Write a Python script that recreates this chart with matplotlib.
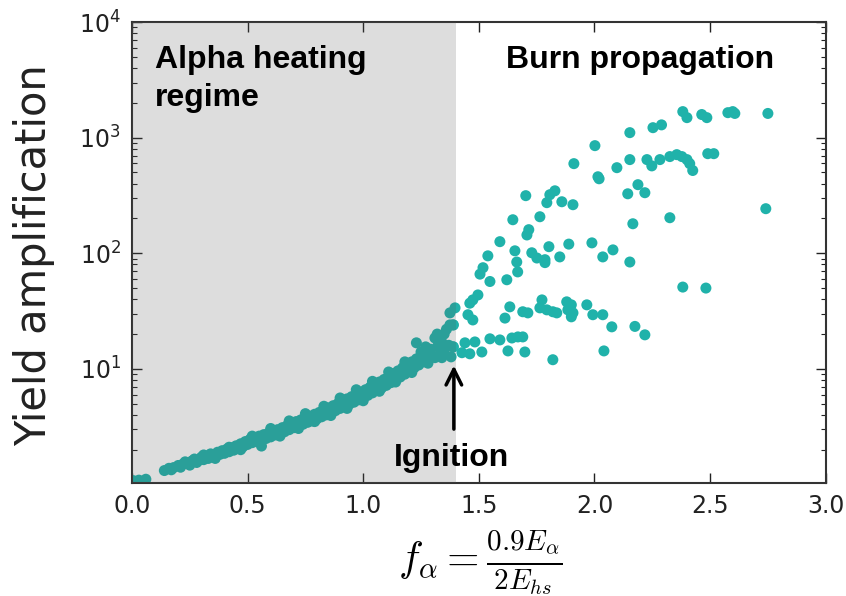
import numpy as np
import matplotlib
matplotlib.use("Agg")
import matplotlib.pyplot as plt

plt.rcParams['mathtext.fontset'] = 'cm'

# ---- dados ----
# cauda inicial (x ~ 0)
x_inicio = [0.005, 0.03, 0.06]
y_inicio = [1.08, 1.09, 1.11]

# faixa densa do aquecimento alfa (x < 1.4)
x_faixa = [0.14, 0.16, 0.17, 0.18, 0.20, 0.21, 0.22, 0.24, 0.25, 0.26, 0.27, 0.28,
           0.29, 0.30, 0.31, 0.32, 0.33, 0.34, 0.35, 0.36, 0.37, 0.38, 0.39, 0.40,
           0.41, 0.42, 0.43, 0.44, 0.45, 0.46, 0.47, 0.48, 0.49, 0.50, 0.51, 0.52,
           0.53, 0.54, 0.55, 0.56, 0.57, 0.58, 0.59, 0.60, 0.61, 0.62, 0.63, 0.64,
           0.65, 0.66, 0.67, 0.68, 0.69, 0.70, 0.71, 0.72, 0.73, 0.74, 0.75, 0.76,
           0.77, 0.78, 0.79, 0.80, 0.81, 0.82, 0.83, 0.84, 0.85, 0.86, 0.87, 0.88,
           0.89, 0.90, 0.91, 0.92, 0.93, 0.94, 0.95, 0.96, 0.97, 0.98, 0.99, 1.00,
           1.01, 1.02, 1.03, 1.04, 1.05, 1.06, 1.07, 1.08, 1.09, 1.10, 1.11, 1.12,
           1.13, 1.14, 1.15, 1.16, 1.17, 1.18, 1.19, 1.20, 1.21, 1.22, 1.23, 1.24,
           1.25, 1.26, 1.27, 1.28, 1.29, 1.30,
           1.23, 1.27, 1.31, 1.31, 1.32, 1.32, 1.33, 1.34, 1.34, 1.35, 1.35, 1.36,
           1.37, 1.375, 1.375, 1.38, 1.39, 1.39,
           0.23, 0.31, 0.36, 0.42, 0.47, 0.52, 0.56, 0.60, 0.64, 0.68, 0.72, 0.75,
           0.79, 0.83, 0.86, 0.90, 0.93, 0.97, 1.00, 1.04, 1.07, 1.11, 1.14, 1.18,
           1.21, 1.25, 1.28]
y_faixa = [1.32, 1.38, 1.34, 1.40, 1.46, 1.41, 1.50, 1.53, 1.47, 1.60, 1.66, 1.55,
           1.62, 1.72, 1.64, 1.76, 1.68, 1.84, 1.74, 1.80, 1.90, 1.82, 1.96, 1.86,
           2.02, 1.92, 2.08, 1.98, 2.16, 2.05, 2.25, 2.12, 2.35, 2.22, 2.45, 2.30,
           2.52, 2.36, 2.62, 2.42, 2.70, 2.50, 2.78, 2.58, 2.88, 2.68, 2.98, 2.78,
           3.10, 2.86, 3.22, 2.98, 3.35, 3.10, 3.50, 3.22, 3.62, 3.32, 3.75, 3.45,
           3.90, 3.55, 4.05, 3.70, 4.20, 3.85, 4.40, 4.00, 4.60, 4.15, 4.80, 4.35,
           5.00, 4.55, 5.25, 4.75, 5.50, 4.95, 5.75, 5.15, 6.00, 5.40, 6.30, 5.65,
           6.60, 5.90, 6.95, 6.20, 7.30, 6.50, 7.70, 6.85, 8.10, 7.20, 8.60, 7.60,
           9.10, 8.00, 9.60, 8.50, 10.2, 9.00, 10.8, 9.60, 11.5, 10.2, 12.2, 10.8,
           13.0, 11.5, 13.8, 12.2, 14.8, 12.8,
           16.8, 15.5, 18.5, 12.5, 20.0, 15.5, 13.0, 12.5, 17.0, 14.0, 20.0, 22.0,
           16.0, 30.5, 24.0, 12.7, 15.5, 24.0,
           1.57, 1.80, 1.68, 2.10, 2.00, 2.62, 2.15, 3.05, 2.62, 3.55, 3.05, 4.10,
           3.50, 4.75, 3.95, 5.60, 4.55, 6.60, 5.30, 7.80, 6.40, 9.40, 7.70, 11.5,
           9.30, 14.0, 11.2]

# propagacao da queima (x > 1.4)
x_queima = [1.388, 1.427, 1.461, 1.44, 1.483, 1.513, 1.548, 1.591, 1.626, 1.643,
            1.669, 1.69, 1.699, 1.82, 2.041,
            1.397, 1.388, 1.461, 1.474, 1.496, 1.453, 1.474, 1.634, 1.613, 1.69,
            1.712, 1.773, 1.764, 1.794, 1.82, 1.837, 1.88, 1.90, 1.885, 1.907,
            1.90, 1.967, 1.993, 2.036, 2.075, 2.175, 2.218,
            1.518, 1.505, 1.548, 1.621, 1.664, 1.668, 1.729, 1.751, 1.786, 1.786,
            1.803, 1.85, 1.889, 1.989, 2.036, 2.08, 2.153, 1.539, 1.591, 1.656,
            1.647,
            1.703, 1.829, 1.807, 1.794, 1.859, 1.907, 1.764, 1.716, 1.708, 1.911,
            2.002, 2.015, 2.02, 2.097, 2.153, 2.227, 2.248, 2.283, 2.326, 2.356,
            2.378, 2.40, 2.412, 2.425, 2.49, 2.516, 2.144, 2.188, 2.218, 2.326,
            2.166, 2.741, 2.382, 2.482,
            2.153, 2.253, 2.29, 2.382, 2.40, 2.464, 2.486, 2.577, 2.598, 2.607,
            2.75]
y_queima = [15.5, 13.8, 13.5, 16.8, 17.1, 14.0, 18.2, 17.8, 14.3, 18.5,
            18.9, 18.9, 14.0, 12.0, 14.3,
            33.7, 24.0, 37.0, 39.5, 43.6, 29.4, 26.5, 34.4, 27.5, 31.2,
            30.5, 39.5, 33.7, 32.4, 31.2, 30.5, 38.0, 35.8, 32.4, 30.5,
            28.2, 35.8, 29.4, 29.4, 23.1, 23.3, 19.7,
            75, 66, 57, 59, 84, 69, 101, 91, 88, 83,
            114, 93, 120, 123, 93, 107, 84, 95, 126, 105,
            195,
            315, 347, 321, 274, 279, 263, 207, 160, 144, 596,
            853, 459, 441, 550, 646, 646, 570, 646, 686, 713,
            686, 646, 596, 520, 727, 727, 327, 392, 334, 203,
            180, 243, 51, 50,
            1105, 1220, 1290, 1680, 1490, 1585, 1490, 1645, 1680, 1620,
            1620]

limite_ignicao = 1.4

x = x_inicio + x_faixa + x_queima
y = y_inicio + y_faixa + y_queima

fig = plt.figure(figsize=(8.46, 5.96), dpi=100)
ax = fig.add_axes([0.156, 0.1896, 0.82, 0.7734])

ax.scatter(x, y, s=63, color='#20b2aa', edgecolors='none', zorder=2)
# regiao sombreada por cima dos pontos
ax.axvspan(0, limite_ignicao, color='#575757', alpha=0.2, lw=0, zorder=3)

ax.set_yscale('log')
ax.set_xlim(0, 3.0)
ax.set_ylim(1.03, 1e4)
ax.set_xticks([0.0, 0.5, 1.0, 1.5, 2.0, 2.5, 3.0])
ax.set_xticklabels(['0.0', '0.5', '1.0', '1.5', '2.0', '2.5', '3.0'])

ax.tick_params(which='both', direction='in', top=True, right=True, labelsize=17, colors='#222222')
ax.tick_params(which='major', length=7, width=1, pad=8)
ax.tick_params(which='minor', length=3.5, width=0.8)
for s in ax.spines.values():
    s.set_linewidth(1.5)
    s.set_color('#333333')

# textos (x em dados, y em fracao do eixo)
trans = ax.get_xaxis_transform()
fonte = ['Liberation Sans', 'DejaVu Sans']
ax.text(0.1, 0.95, 'Alpha heating\nregime', transform=trans,
        fontsize=23, fontweight='bold', family=fonte, va='top', ha='left',
        linespacing=1.33, zorder=5)
ax.text(2.196, 0.95, 'Burn propagation', transform=trans,
        fontsize=23, fontweight='bold', family=fonte, va='top', ha='center', zorder=5)
ax.text(1.383, 0.022, 'Ignition', transform=trans,
        fontsize=23, fontweight='bold', family=fonte, va='bottom', ha='center', zorder=5)
ax.annotate('', xy=(1.392, 11.3), xytext=(1.392, 2.85),
            arrowprops=dict(arrowstyle='->', lw=2.5, color='k', mutation_scale=28),
            zorder=5)

fig.text(0.040, 0.572, 'Yield amplification', rotation=90, fontsize=30,
         va='center', ha='center', color='#222222')
fig.text(0.568, 0.057, r'$f_\alpha = \frac{0.9E_\alpha}{2E_{hs}}$', fontsize=30,
         va='center', ha='center')

fig.savefig('out.png', dpi=100)
